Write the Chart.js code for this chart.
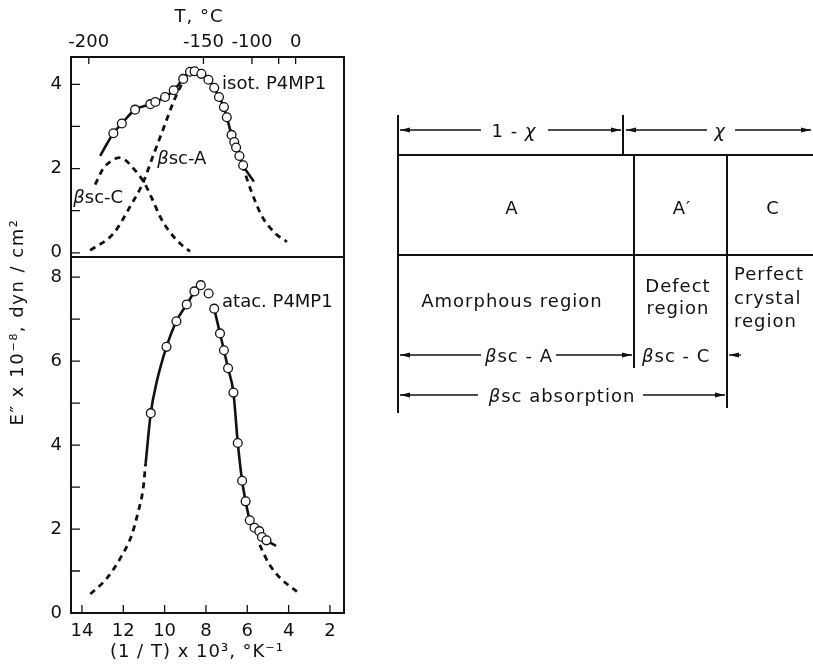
<!DOCTYPE html>
<html lang="en">
<head>
<meta charset="UTF-8">
<title>Loss modulus of isotactic and atactic P4MP1</title>
<script src="https://cdn.jsdelivr.net/npm/chart.js"></script>
<style>
  body { margin: 0; background: #fff; }
  #wrap { position: absolute; left: 0; top: 0; width: 360px; height: 664px; }
  #scheme { position: absolute; left: 0; top: 0; }
  #scheme text { font-family: 'DejaVu Sans', sans-serif; font-size: 18px; letter-spacing: 1px; fill: #111; }
</style>
</head>
<body>
<div id="wrap"><canvas id="myChart"></canvas></div>

<svg id="scheme" width="813" height="664" viewBox="0 0 813 664">
  <defs>
    <marker id="ah" viewBox="0 0 10 6" refX="10" refY="3" markerWidth="10" markerHeight="6"
            markerUnits="userSpaceOnUse" orient="auto">
      <path d="M0,0.6 L10,3 L0,5.4 z" fill="#111"/>
    </marker>
  </defs>
  <!-- box and dividers -->
  <g stroke="#111" stroke-width="2" fill="none">
    <line x1="398" y1="115" x2="398" y2="413"/>
    <line x1="623" y1="115" x2="623" y2="155"/>
    <line x1="397" y1="155" x2="813" y2="155"/>
    <line x1="397" y1="255" x2="813" y2="255"/>
    <line x1="634" y1="155" x2="634" y2="368"/>
    <line x1="727" y1="155" x2="727" y2="408"/>
  </g>
  <!-- arrows -->
  <g stroke="#111" stroke-width="1.3">
    <line x1="481" y1="130" x2="400" y2="130" marker-end="url(#ah)"/>
    <line x1="548" y1="130" x2="621" y2="130" marker-end="url(#ah)"/>
    <line x1="707" y1="130" x2="626" y2="130" marker-end="url(#ah)"/>
    <line x1="735" y1="130" x2="811" y2="130" marker-end="url(#ah)"/>
    <line x1="481" y1="355" x2="400" y2="355" marker-end="url(#ah)"/>
    <line x1="556" y1="355" x2="632" y2="355" marker-end="url(#ah)"/>
    <line x1="741" y1="355" x2="729" y2="355" marker-end="url(#ah)"/>
    <line x1="478" y1="395" x2="400" y2="395" marker-end="url(#ah)"/>
    <line x1="643" y1="395" x2="725" y2="395" marker-end="url(#ah)"/>
  </g>
  <g dominant-baseline="central">
    <text x="514" y="130" text-anchor="middle">1 - <tspan font-style="italic">χ</tspan></text>
    <text x="720" y="130" text-anchor="middle" font-style="italic">χ</text>
    <text x="512" y="207" text-anchor="middle">A</text>
    <text x="682" y="207" text-anchor="middle">A′</text>
    <text x="773" y="207" text-anchor="middle">C</text>
    <text x="512" y="300" text-anchor="middle">Amorphous region</text>
    <text x="678" y="285" text-anchor="middle">Defect</text>
    <text x="678" y="307" text-anchor="middle">region</text>
    <text x="734" y="273">Perfect</text>
    <text x="734" y="297">crystal</text>
    <text x="734" y="320">region</text>
    <text x="519" y="355" text-anchor="middle"><tspan font-style="italic">β</tspan>sc - A</text>
    <text x="642" y="355"><tspan font-style="italic">β</tspan>sc - C</text>
    <text x="562" y="395" text-anchor="middle"><tspan font-style="italic">β</tspan>sc  absorption</text>
  </g>
</svg>

<script>
  // axis ticks
  const xTicks = [14, 12, 10, 8, 6, 4, 2];                 // (1/T) x 10^3
  const topTemps = [-200, -150, -100, -50, 0];             // T, deg C
  const topTempLabels = ['-200', '-150', '-100', '', '0'];
  const yTopTicks = [0, 1, 2, 3, 4];
  const yBottomTicks = [0, 1, 2, 3, 4, 5, 6, 7, 8];

  // isotactic P4MP1 (upper panel), [1000/T, E'' x 1e-8]
  const isotCircles = [
    [12.48, 2.84], [12.07, 3.07], [11.43, 3.40], [10.69, 3.53], [10.45, 3.58],
    [9.98, 3.70], [9.56, 3.86], [9.10, 4.13], [8.77, 4.30], [8.55, 4.31],
    [8.22, 4.25], [7.88, 4.11], [7.60, 3.92], [7.37, 3.70], [7.13, 3.46],
    [6.99, 3.22], [6.76, 2.80], [6.63, 2.63], [6.54, 2.50], [6.38, 2.30], [6.20, 2.08]
  ];
  const isotCurve = [
    [13.12, 2.30], [12.79, 2.59], [12.48, 2.84], [12.07, 3.07], [11.43, 3.40],
    [10.69, 3.53], [9.98, 3.70], [9.56, 3.86], [9.10, 4.13], [8.77, 4.30],
    [8.55, 4.32], [8.22, 4.25], [7.88, 4.11], [7.60, 3.92], [7.37, 3.70],
    [7.13, 3.46], [6.99, 3.22], [6.76, 2.80], [6.54, 2.50], [6.20, 2.08], [5.68, 1.69]
  ];
  // beta sc-A component, hidden under the measured curve around the peak
  const bscA = [
    [13.60, 0.06], [12.47, 0.46], [11.67, 1.10], [11.02, 1.69], [10.63, 2.21],
    [10.08, 2.92], [9.60, 3.55], [9.19, 4.00],
    null,
    [6.24, 2.08], [5.76, 1.40], [5.28, 0.86], [4.64, 0.46], [4.08, 0.26]
  ];
  const bscC = [
    [13.36, 1.62], [12.96, 2.01], [12.47, 2.21], [12.20, 2.26], [11.90, 2.20],
    [11.67, 2.09], [11.02, 1.69], [10.62, 1.30], [10.22, 0.86], [9.82, 0.54],
    [9.25, 0.22], [8.77, 0.03]
  ];

  // atactic P4MP1 (lower panel)
  const atacCircles = [
    [10.67, 4.76], [9.91, 6.34], [9.43, 6.95], [8.93, 7.35], [8.56, 7.66],
    [8.25, 7.81], [7.87, 7.61], [7.60, 7.25], [7.32, 6.66], [7.13, 6.26],
    [6.93, 5.83], [6.67, 5.25], [6.46, 4.05], [6.25, 3.15], [6.08, 2.66],
    [5.88, 2.21], [5.65, 2.03], [5.42, 1.95], [5.29, 1.81], [5.07, 1.73]
  ];
  const atacCurve = [
    [10.92, 3.55], [10.67, 4.76], [10.39, 5.49], [9.91, 6.34], [9.43, 6.95],
    [8.93, 7.35], [8.56, 7.66],
    null,
    [7.60, 7.25], [7.32, 6.66], [7.13, 6.26], [6.93, 5.83], [6.67, 5.25],
    [6.46, 4.05], [6.25, 3.15], [6.08, 2.66], [5.88, 2.21], [5.65, 2.03],
    [5.42, 1.95], [5.29, 1.81], [5.07, 1.73], [4.61, 1.60]
  ];
  const atacTails = [
    [13.59, 0.45], [12.79, 0.83], [12.15, 1.30], [11.59, 1.86], [11.28, 2.41],
    [11.04, 2.96], [10.92, 3.55],
    null,
    [5.40, 1.62], [4.96, 1.18], [4.40, 0.83], [3.60, 0.51]
  ];

  const ink = '#111';
  const font = "'DejaVu Sans', sans-serif";
  const xMin = 1.32, xMax = 14.53;

  function toXY(list) {
    let lastX = 0;
    return list.map(p => {
      if (p === null) return { x: lastX, y: null };
      lastX = p[0];
      return { x: p[0], y: p[1] };
    });
  }

  function circles(list, axis) {
    return {
      data: toXY(list), yAxisID: axis, showLine: false,
      pointRadius: 4.4, pointBackgroundColor: '#fff',
      pointBorderColor: ink, pointBorderWidth: 1.3
    };
  }

  function curve(list, axis, dashed) {
    return {
      data: toXY(list), yAxisID: axis, showLine: true, spanGaps: false,
      pointRadius: 0, borderColor: ink, borderWidth: dashed ? 2.8 : 2.6,
      borderDash: dashed ? [6, 5] : [], cubicInterpolationMode: 'monotone'
    };
  }

  // draws text made of [string, italic] parts starting at x
  function drawParts(ctx, parts, x, y) {
    parts.forEach(([s, it]) => {
      ctx.font = (it ? 'italic ' : '') + '18px ' + font;
      ctx.fillText(s, x, y);
      x += ctx.measureText(s).width;
    });
  }

  const frameAndLabels = {
    id: 'frameAndLabels',
    afterDraw(chart) {
      const { ctx, chartArea: a, scales } = chart;
      const { x, xT, yT, yB } = scales;
      ctx.save();
      ctx.strokeStyle = ink;
      ctx.fillStyle = ink;
      ctx.lineWidth = 2;
      ctx.strokeRect(a.left, a.top, a.right - a.left, a.bottom - a.top);
      ctx.beginPath();
      ctx.moveTo(a.left, yT.bottom);
      ctx.lineTo(a.right, yT.bottom);
      ctx.stroke();

      // inner tick marks
      ctx.lineWidth = 1.3;
      ctx.beginPath();
      x.ticks.forEach(t => {
        const px = x.getPixelForValue(t.value);
        ctx.moveTo(px, a.bottom); ctx.lineTo(px, a.bottom - 8);
      });
      xT.ticks.forEach(t => {
        const px = xT.getPixelForValue(t.value);
        ctx.moveTo(px, a.top); ctx.lineTo(px, a.top + 7);
      });
      [yT, yB].forEach(s => {
        s.ticks.forEach(t => {
          const py = s.getPixelForValue(t.value);
          if (py > s.top + 1 && py < s.bottom - 1) {
            ctx.moveTo(a.left, py); ctx.lineTo(a.left + 9, py);
          }
        });
      });
      ctx.stroke();

      // curve labels
      ctx.textBaseline = 'middle';
      ctx.textAlign = 'left';
      drawParts(ctx, [['isot. P4MP1', false]], x.getPixelForValue(7.22), yT.getPixelForValue(4.0));
      drawParts(ctx, [['β', true], ['sc-A', false]], x.getPixelForValue(10.36), yT.getPixelForValue(2.23));
      drawParts(ctx, [['β', true], ['sc-C', false]], x.getPixelForValue(14.42), yT.getPixelForValue(1.30));
      drawParts(ctx, [['atac. P4MP1', false]], x.getPixelForValue(7.22), yB.getPixelForValue(7.39));

      // axis titles
      ctx.font = '18px ' + font;
      ctx.textAlign = 'center';
      ctx.letterSpacing = '1px';
      ctx.fillText('T, °C', 199, 17);
      ctx.fillText('(1 / T) x 10³, °K⁻¹', 197, 652);
      ctx.translate(18, 322);
      ctx.rotate(-Math.PI / 2);
      ctx.letterSpacing = '1.5px';
      ctx.fillText('E″ x 10⁻⁸, dyn / cm²', 0, 0);
      ctx.restore();
    }
  };

  const hiddenGrid = { display: false, drawTicks: false };
  const tickFont = { family: font, size: 18 };

  new Chart(document.getElementById('myChart'), {
    type: 'scatter',
    data: {
      datasets: [
        circles(isotCircles, 'yT'),
        circles(atacCircles, 'yB'),
        curve(isotCurve, 'yT', false),
        curve(bscA, 'yT', true),
        curve(bscC, 'yT', true),
        curve(atacCurve, 'yB', false),
        curve(atacTails, 'yB', true)
      ]
    },
    options: {
      responsive: true,
      maintainAspectRatio: false,
      animation: false,
      layout: { padding: { right: 16 } },
      plugins: { legend: { display: false }, tooltip: { enabled: false } },
      scales: {
        x: {
          type: 'linear', position: 'bottom', reverse: true, min: xMin, max: xMax,
          afterFit: s => { s.height = 51; },
          afterBuildTicks: s => { s.ticks = xTicks.map(v => ({ value: v })); },
          grid: hiddenGrid, border: { display: false },
          ticks: { color: ink, font: tickFont, padding: 8, autoSkip: false, maxRotation: 0 }
        },
        xT: {
          type: 'linear', position: 'top', reverse: true, min: xMin, max: xMax,
          afterFit: s => { s.height = 57; },
          afterBuildTicks: s => { s.ticks = topTemps.map(t => ({ value: 1000 / (t + 273.15) })); },
          grid: hiddenGrid, border: { display: false },
          ticks: {
            color: ink, font: tickFont, padding: 4, autoSkip: false, maxRotation: 0,
            callback: (v, i) => topTempLabels[i]
          }
        },
        yB: {
          type: 'linear', position: 'left', stack: 'E', stackWeight: 356, weight: 0,
          min: 0, max: 8.48,
          afterFit: s => { s.width = 71; },
          afterBuildTicks: s => { s.ticks = yBottomTicks.map(v => ({ value: v })); },
          grid: hiddenGrid, border: { display: false },
          ticks: { color: ink, font: tickFont, padding: 9, callback: v => (v % 2 === 0 ? v : '') }
        },
        yT: {
          type: 'linear', position: 'left', stack: 'E', stackWeight: 200, weight: 1,
          min: -0.1, max: 4.65,
          afterFit: s => { s.width = 71; },
          afterBuildTicks: s => { s.ticks = yTopTicks.map(v => ({ value: v })); },
          grid: hiddenGrid, border: { display: false },
          ticks: { color: ink, font: tickFont, padding: 9, callback: v => (v % 2 === 0 ? v : '') }
        }
      }
    },
    plugins: [frameAndLabels]
  });
</script>
</body>
</html>
